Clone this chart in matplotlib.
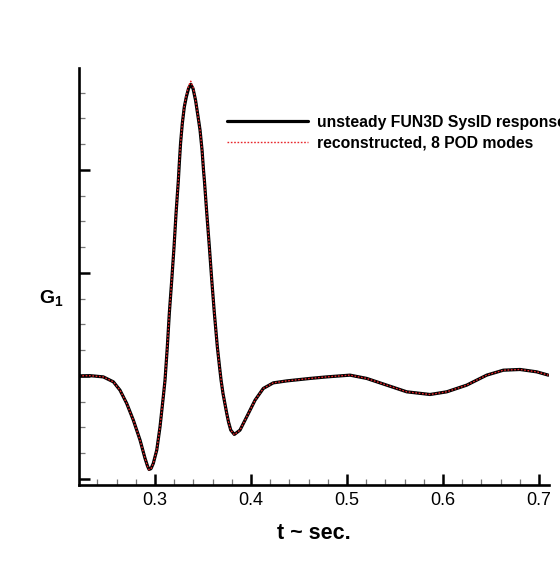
import numpy as np
import matplotlib.pyplot as plt
from matplotlib.ticker import MultipleLocator, NullFormatter

plt.rcParams['font.family'] = ['Liberation Sans', 'DejaVu Sans']
plt.rcParams['mathtext.fontset'] = 'custom'
plt.rcParams['mathtext.rm'] = 'Liberation Sans'
plt.rcParams['mathtext.bf'] = 'Liberation Sans:bold'

# time history of the generalized force, t in seconds
t_sec = [0.2208, 0.2323, 0.2461, 0.2566, 0.2635, 0.2705, 0.2774, 0.2844, 0.2896, 0.2922,
         0.2938, 0.2958, 0.2982, 0.3018, 0.3052, 0.3086, 0.3104, 0.3128, 0.3149, 0.3174,
         0.3198, 0.3219, 0.3243, 0.3253, 0.3266, 0.3284, 0.3305, 0.3326, 0.3349, 0.3372,
         0.3396, 0.3422, 0.3446, 0.3469, 0.3490, 0.3505, 0.3514, 0.3539, 0.3566, 0.3591,
         0.3618, 0.3649, 0.3672, 0.3688, 0.3708, 0.3747, 0.3766, 0.3789, 0.3826, 0.3885,
         0.3955, 0.4042, 0.4128, 0.4232, 0.4372, 0.4615, 0.4789, 0.5031, 0.5205, 0.5413,
         0.5622, 0.5865, 0.6039, 0.6247, 0.6455, 0.6628, 0.6802, 0.6976, 0.7097]
g_fun3d = [0.000, 0.002, -0.010, -0.058, -0.139, -0.268, -0.430, -0.624, -0.802, -0.877,
           -0.909, -0.901, -0.850, -0.721, -0.495, -0.204, -0.042, 0.282, 0.609, 0.929,
           1.252, 1.580, 1.900, 2.065, 2.259, 2.450, 2.612, 2.709, 2.790, 2.832,
           2.790, 2.677, 2.531, 2.386, 2.191, 1.997, 1.900, 1.580, 1.252, 0.929,
           0.609, 0.282, 0.087, -0.042, -0.171, -0.365, -0.450, -0.527, -0.569, -0.527,
           -0.398, -0.236, -0.122, -0.068, -0.049, -0.025, -0.010, 0.007, -0.025, -0.090,
           -0.155, -0.181, -0.155, -0.090, 0.007, 0.055, 0.062, 0.039, 0.007]
# 8-mode POD reconstruction, overshoots a little at the main peak
g_pod = [0.000, 0.002, -0.010, -0.058, -0.139, -0.268, -0.430, -0.624, -0.802, -0.880,
         -0.912, -0.903, -0.850, -0.721, -0.495, -0.204, -0.042, 0.282, 0.609, 0.929,
         1.252, 1.580, 1.900, 2.065, 2.259, 2.450, 2.620, 2.725, 2.815, 2.862,
         2.805, 2.680, 2.531, 2.386, 2.191, 1.997, 1.900, 1.580, 1.252, 0.929,
         0.609, 0.282, 0.087, -0.042, -0.171, -0.365, -0.450, -0.527, -0.572, -0.527,
         -0.398, -0.236, -0.122, -0.068, -0.049, -0.025, -0.010, 0.007, -0.025, -0.090,
         -0.155, -0.181, -0.155, -0.090, 0.007, 0.055, 0.062, 0.039, 0.007]

fig = plt.figure(figsize=(5.6, 5.84), dpi=100)
ax = fig.add_axes([79/560, 1 - 485/584, 470/560, 417/584])

ax.plot(t_sec, g_fun3d, color='black', lw=2.3, solid_joinstyle='round',
        solid_capstyle='round', label='unsteady FUN3D SysID response')
ax.plot(t_sec, g_pod, color='#e8262b', lw=1.0, ls=(0, (1.2, 1.2)),
        label='reconstructed, 8 POD modes')

ax.set_xlim(0.2208, 0.7104)
ax.set_ylim(-1.06, 2.99)

for s in ['top', 'right']:
    ax.spines[s].set_visible(False)
for s in ['left', 'bottom']:
    ax.spines[s].set_linewidth(1.9)

ax.xaxis.set_major_locator(MultipleLocator(0.1))
ax.xaxis.set_minor_locator(MultipleLocator(0.02))
ax.yaxis.set_major_locator(MultipleLocator(1.0))
ax.yaxis.set_minor_locator(MultipleLocator(0.25))
ax.yaxis.set_major_formatter(NullFormatter())
ax.set_xticks([0.3, 0.4, 0.5, 0.6, 0.7])
ax.set_xticklabels(['0.3', '0.4', '0.5', '0.6', '0.7'])

ax.tick_params(which='major', direction='in', length=8, width=1.8, colors='black',
               labelsize=13, pad=5)
ax.tick_params(which='minor', direction='in', length=4, width=0.9, colors='#777777')

ax.set_xlabel('t ~ sec.', fontsize=15.5, fontweight='bold', labelpad=10)
ax.text(-0.058, 0.448, r'$\mathbf{G_1}$', transform=ax.transAxes, fontsize=14,
        ha='center', va='center')

leg = ax.legend(loc='upper left', bbox_to_anchor=(0.315, 0.888), frameon=False,
                borderpad=0, borderaxespad=0,
                handlelength=5.16, handletextpad=0.57, labelspacing=0.4,
                prop={'weight': 'bold', 'size': 11.3})

fig.savefig('out.png', dpi=100)
